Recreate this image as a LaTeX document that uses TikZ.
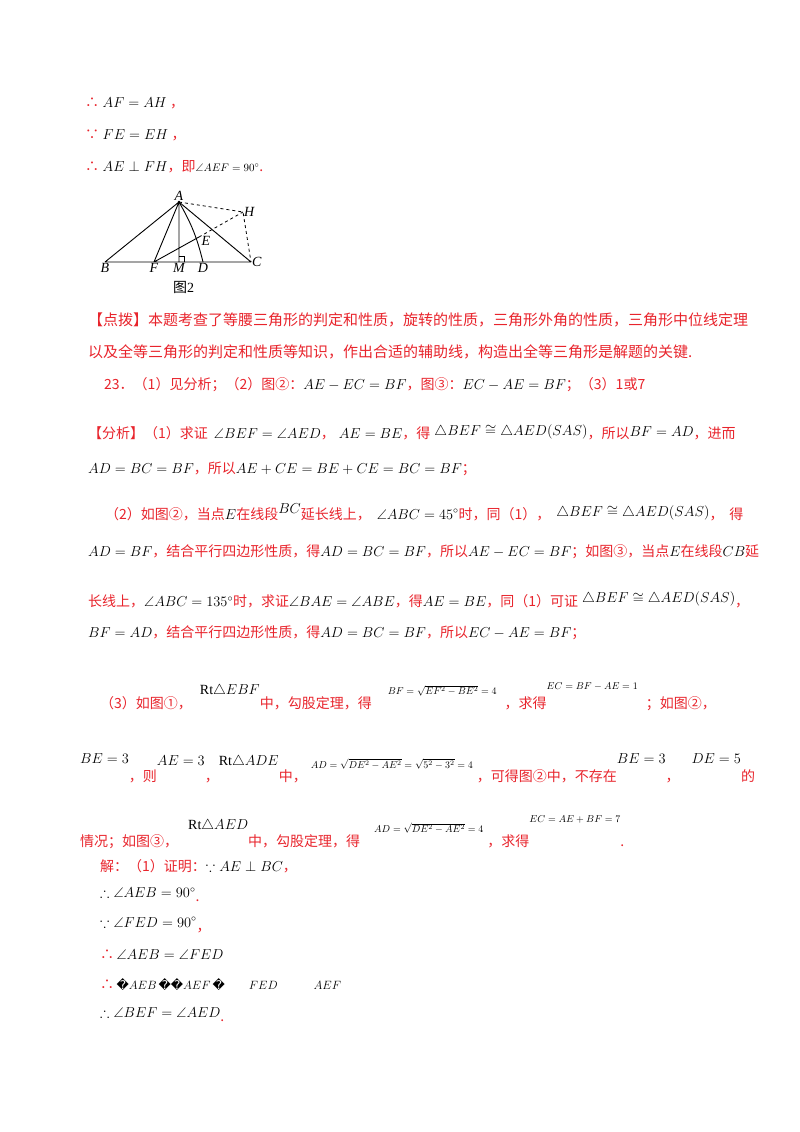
\documentclass[tikz,border=0pt]{standalone}
\usepackage{amsmath,amssymb}
\usepackage{fontspec}
\setmainfont{Liberation Serif}
\newfontfamily\cjk{Noto Sans CJK SC}
\newfontfamily\djv{DejaVu Sans}
\definecolor{rd}{RGB}{232,36,44}
\newcommand{\C}[1]{{\cjk\color{rd}#1}}
\newcommand{\up}[2]{\raisebox{#1}{#2}}
\newcommand{\sm}[1]{{\fontsize{10}{12}\selectfont$#1$}}
\tikzset{t/.style={anchor=west,inner sep=0pt,font=\fontsize{14}{17}\selectfont},
 lbl/.style={inner sep=1pt,font=\fontsize{14}{16}\selectfont\itshape}}
\begin{document}
\begin{tikzpicture}[x=1pt,y=-1pt]
\useasboundingbox (0,0) rectangle (800,1132);
% top lines
\node[t] (a) at (85,103) {\C{∴} $AF=AH$ \C{，}};
\node[t] (b) at (85,135) {\C{∵} $FE=EH$ \C{，}};
\node[t] (c) at (85,167) {\C{∴} $AE\perp FH$\C{，即}{\fontsize{11}{12}\selectfont$\angle AEF=90^\circ$}\C{ .}};
% figure
\coordinate (A) at (179,202); \coordinate (H) at (243,212); \coordinate (B) at (105,262);
\coordinate (F) at (154,262); \coordinate (M) at (179,262); \coordinate (D) at (203,262);
\coordinate (C) at (251,262); \coordinate (E) at (199,237);
\draw[line width=0.9pt] (B)--(C) (A)--(B) (A)--(F) (A)--(M) (A)--(C) (F)--(E);
\draw[line width=0.9pt] (A) to[bend left=8] (D);
\draw[line width=0.8pt,dashed] (A)--(H)--(C) (E)--(H);
\draw[line width=0.6pt] (179,256)--(184,256)--(184,262);
\fill (A) circle (1.3pt);
\node[lbl,above] at (A) {A}; \node[lbl,right] at (H) {H}; \node[lbl,below] at (B) {B};
\node[lbl,below] at (F) {F}; \node[lbl,below] at (M) {M}; \node[lbl,below] at (D) {D};
\node[lbl,right] at (C) {C}; \node[lbl] at (206,241) {E};
\node[t] (fig) at (173,287) {{\cjk 图}2};
% 点拨
\node[t,font=\fontsize{15}{17}\selectfont] (d1) at (88,320) {\C{【点拨】本题考查了等腰三角形的判定和性质，旋转的性质，三角形外角的性质，三角形中位线定理}};
\node[t,font=\fontsize{15}{17}\selectfont] (d2) at (88,352) {\C{以及全等三角形的判定和性质等知识，作出合适的辅助线，构造出全等三角形是解题的关键.}};
\node[t] (e1) at (104,385) {\C{23．（1）见分析；（2）图②：}$AE-EC=BF$\C{，图③：}$EC-AE=BF$\C{；（3）1或7}};
% 分析
\node[t] (f1) at (88,432) {\C{【分析】（1）求证}\hspace{6pt}$\angle BEF=\angle AED$\C{，}\hspace{4pt}$AE=BE$\C{，得}\hspace{4pt}\up{3pt}{$\triangle BEF\cong\triangle AED(SAS)$}\C{，所以}\up{2pt}{$BF=AD$}\C{，进而}};
\node[t] (f2) at (88,469) {$AD=BC=BF$\C{，所以}$AE+CE=BE+CE=BC=BF$\C{；}};
\node[t] (g1) at (105,512) {\C{（2）如图②，当点}$E$\C{在线段}\up{6pt}{$BC$}\C{延长线上，}\hspace{6pt}$\angle ABC=45^\circ$\C{时，同（1），}\hspace{6pt}\up{3pt}{$\triangle BEF\cong\triangle AED(SAS)$}\C{，\hspace{6pt}得}};
\node[t] (g2) at (88,552) {$AD=BF$\C{，结合平行四边形性质，得}$AD=BC=BF$\C{，所以}$AE-EC=BF$\C{；如图③，当点}$E$\C{在线段}$CB$\C{延}};
\node[t] (g3) at (88,600) {\C{长线上，}$\angle ABC=135^\circ$\C{时，求证}$\angle BAE=\angle ABE$\C{，得}$AE=BE$\C{，同（1）可证}\hspace{4pt}\up{4pt}{$\triangle BEF\cong\triangle AED(SAS)$}\C{，}};
\node[t] (g4) at (88,633) {$BF=AD$\C{，结合平行四边形性质，得}$AD=BC=BF$\C{，所以}$EC-AE=BF$\C{；}};
% (3)
\node[t] (h1) at (100,697) {\C{（3）如图①，}\hspace{8pt}\up{14pt}{Rt$\triangle EBF$}\C{中，勾股定理，得}\hspace{16pt}\up{14pt}{\sm{BF=\sqrt{EF^2-BE^2}=4}}\hspace{8pt}\C{，求得}\up{19pt}{\sm{EC=BF-AE=1}}\hspace{8pt}\C{；如图②，}};
\node[t] (h2) at (80,768) {\up{18pt}{$BE=3$}\C{，则}\up{16pt}{$AE=3$}\C{，}\up{16pt}{Rt$\triangle ADE$}\C{中，}\hspace{4pt}\up{13pt}{\sm{AD=\sqrt{DE^2-AE^2}=\sqrt{5^2-3^2}=4}}\hspace{4pt}\C{，可得图②中，不存在}\up{18pt}{$BE=3$}\C{，}\hspace{12pt}\up{18pt}{$DE=5$}\C{的}};
\node[t] (h3) at (80,832) {\C{情况；如图③，}\hspace{10pt}\up{17pt}{Rt$\triangle AED$}\C{中，勾股定理，得}\hspace{14pt}\up{14pt}{\sm{AD=\sqrt{DE^2-AE^2}=4}}\hspace{4pt}\C{，求得}\up{24pt}{\sm{EC=AE+BF=7}}\C{ .}};
% 解
\node[t] (j1) at (100,866) {\C{解：（1）证明：}$\because AE\perp BC$\C{，}};
\node[t] (j2) at (100,895) {$\therefore\angle AEB=90^\circ$\raisebox{-4pt}{\C{.}}};
\node[t] (j3) at (100,925) {$\because\angle FED=90^\circ$\raisebox{-4pt}{\C{，}}};
\node[t] (j4) at (100,955) {\C{∴}\,$\angle AEB=\angle FED$};
\node[t] (j5) at (100,985) {\C{∴}\,{\fontsize{12}{13}\selectfont{\djv\char"FFFD}$AEB$\,{\djv\char"FFFD\char"FFFD}$AEF$\,{\djv\char"FFFD}\qquad $FED$\qquad\quad $AEF$}};
\node[t] (j6) at (100,1015) {$\therefore\angle BEF=\angle AED$\raisebox{-4pt}{\C{.}}};
\end{tikzpicture}
\end{document}
